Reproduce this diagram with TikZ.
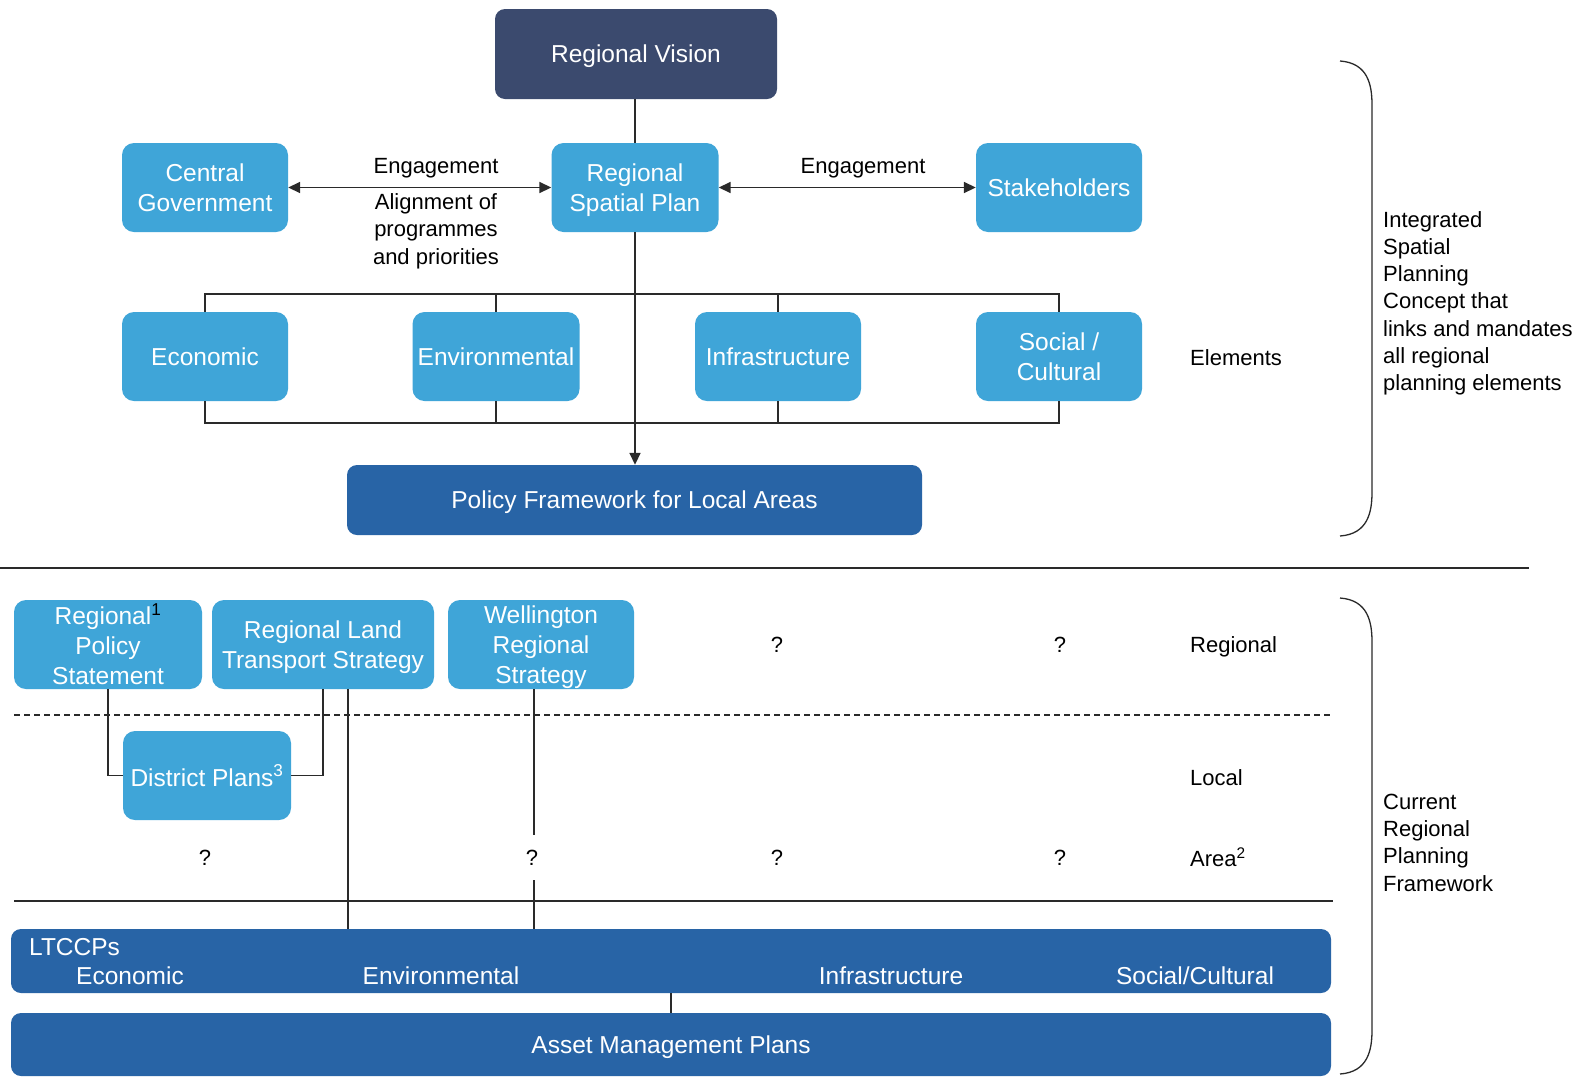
\documentclass[tikz,border=0pt]{standalone}
\usepackage{fontspec}
\setmainfont{Liberation Sans}
\usetikzlibrary{arrows.meta}
\definecolor{navy}{HTML}{3B4A6E}
\definecolor{lblue}{HTML}{3FA5D8}
\definecolor{dblue}{HTML}{2864A6}
\definecolor{lnc}{HTML}{2A2A2A}
\tikzset{
  lbox/.style={fill=lblue, rounded corners=12pt, text=white, font=\fontsize{24.5}{30}\selectfont, align=center, inner sep=0pt, text depth=0pt, minimum width=166pt, minimum height=89pt},
  dbar/.style={fill=dblue, rounded corners=10pt, text=white, font=\fontsize{24.5}{30}\selectfont, align=center, inner sep=0pt, text depth=0pt},
  lbl/.style={text=black, font=\fontsize{22}{27.3}\selectfont, inner sep=0pt, text depth=0pt},
  wlbl/.style={text=white, font=\fontsize{24.5}{30}\selectfont, inner sep=0pt, text depth=0pt},
  conn/.style={draw=lnc, line width=1.7pt},
  arr/.style={-{Triangle[length=12pt,width=11pt]}},
  darr/.style={{Triangle[length=12pt,width=11pt]}-{Triangle[length=12pt,width=11pt]}},
}
\begin{document}
\begin{tikzpicture}[x=1pt,y=-1pt]
\useasboundingbox[fill=white] (0,0) rectangle (1586,1077);

% ---------- upper part ----------
\node[lbox, fill=navy, rounded corners=10pt, minimum width=282pt, minimum height=90pt] (rv) at (636,54) {Regional Vision};
\node[lbox] (cg) at (205,187.5) {Central\\Government};
\node[lbox, minimum width=167pt] (rsp) at (635,187.5) {Regional\\Spatial Plan};
\node[lbox] (sh) at (1059,187.5) {Stakeholders};

\node[lbox] (econ) at (205,356.5) {Economic};
\node[lbox, minimum width=167pt] (env) at (496,356.5) {Environmental};
\node[lbox] (infra) at (778,356.5) {Infrastructure};
\node[lbox] (soc) at (1059,356.5) {Social /\\Cultural};

\node[dbar, minimum width=575pt, minimum height=70pt] (pf) at (634.5,500) {Policy Framework for Local Areas};

\node[lbl] (eng1) at (436,166) {Engagement};
\node[lbl, align=center] (align) at (436,229) {Alignment of\\programmes\\and priorities};
\node[lbl] (eng2) at (863,166) {Engagement};
\node[lbl, anchor=west] (elem) at (1190,358) {Elements};

\draw[conn] (rsp.north) -- (rsp.north |- rv.south);
\draw[conn, darr] (cg.east) -- (rsp.west);
\draw[conn, darr] (rsp.east) -- (sh.west);

\coordinate (tb) at (0,294);
\coordinate (bb) at (0,423);
\draw[conn] (econ.north) -- (econ.north |- tb) -- (soc.north |- tb) -- (soc.north);
\draw[conn] (env.north) -- (env.north |- tb);
\draw[conn] (infra.north) -- (infra.north |- tb);
\draw[conn] (econ.south) -- (econ.south |- bb) -- (soc.south |- bb) -- (soc.south);
\draw[conn] (env.south) -- (env.south |- bb);
\draw[conn] (infra.south) -- (infra.south |- bb);
\draw[conn, arr] (rsp.south) -- (rsp.south |- pf.north);

% brace top
\coordinate (b1a) at (1340,61);
\coordinate (b1b) at (1340,536);
\draw[conn, line width=1.3pt] (b1a) .. controls (1368,63) and (1372,85) .. (1372,105) -- (1372,492) .. controls (1372,512) and (1368,534) .. (b1b);
\node[lbl, anchor=west, align=left] (isp) at (1383,301) {Integrated\\Spatial\\Planning\\Concept that\\links and mandates\\all regional\\planning elements};

% separator
\coordinate (s1) at (0,568);
\coordinate (s2) at (1529,568);
\draw[conn] (s1) -- (s2);

% ---------- lower part ----------
\node[lbox, minimum width=188pt] (rps) at (108,644.5) {Regional\textsuperscript{\color{black}1}\\Policy\\Statement};
\node[lbox, minimum width=222pt] (rlts) at (323,644.5) {Regional Land\\Transport Strategy};
\node[lbox, minimum width=186pt] (wrs) at (541,644.5) {Wellington\\Regional\\Strategy};
\node[lbox, minimum width=168pt] (dp) at (207,775.5) {District Plans\textsuperscript{3}};

\node[lbl] (q1) at (777,645) {?};
\node[lbl] (q2) at (1060,645) {?};
\node[lbl] (q3) at (205,858) {?};
\node[lbl] (q4) at (532,858) {?};
\node[lbl] (q5) at (777,858) {?};
\node[lbl] (q6) at (1060,858) {?};

\node[lbl, anchor=west] (lreg) at (1190,645) {Regional};
\node[lbl, anchor=west] (lloc) at (1190,778) {Local};
\node[lbl, anchor=base west] (lare) at (1190,866) {Area\textsuperscript{2}};

\coordinate (d1) at (14,715);
\coordinate (d2) at (1330,715);
\draw[conn, line width=1.2pt, dash pattern=on 6pt off 4pt] (d1) -- (d2);
\coordinate (h1) at (14,901);
\coordinate (h2) at (1333,901);
\draw[conn] (h1) -- (h2);

\node[dbar, minimum width=1320pt, minimum height=64pt] (ltccp) at (671,961) {};
\node[wlbl, anchor=west] (lt0) at (29,947) {LTCCPs};
\node[wlbl] (lt1) at (130,976) {Economic};
\node[wlbl] (lt2) at (441,976) {Environmental};
\node[wlbl] (lt3) at (891,976) {Infrastructure};
\node[wlbl] (lt4) at (1195,976) {Social/Cultural};

\node[dbar, minimum width=1320pt, minimum height=63pt] (amp) at (671,1044.5) {Asset Management Plans};

\draw[conn] (rps.south) |- (dp.west);
\draw[conn] (rlts.south) |- (dp.east);
\draw[conn] ([xshift=25pt]rlts.south) -- ([xshift=25pt]rlts.south |- ltccp.north);
\coordinate (w1) at (534,835);
\coordinate (w2) at (534,880);
\draw[conn] ([xshift=-7pt]wrs.south) -- (w1);
\draw[conn] (w2) -- (w2 |- ltccp.north);
\draw[conn] (ltccp.south) -- (amp.north);

% brace bottom
\coordinate (b2a) at (1340,598);
\coordinate (b2b) at (1340,1074);
\draw[conn, line width=1.3pt] (b2a) .. controls (1368,600) and (1372,622) .. (1372,642) -- (1372,1030) .. controls (1372,1050) and (1368,1072) .. (b2b);
\node[lbl, anchor=west, align=left] (crp) at (1383,842.5) {Current\\Regional\\Planning\\Framework};
\end{tikzpicture}
\end{document}
